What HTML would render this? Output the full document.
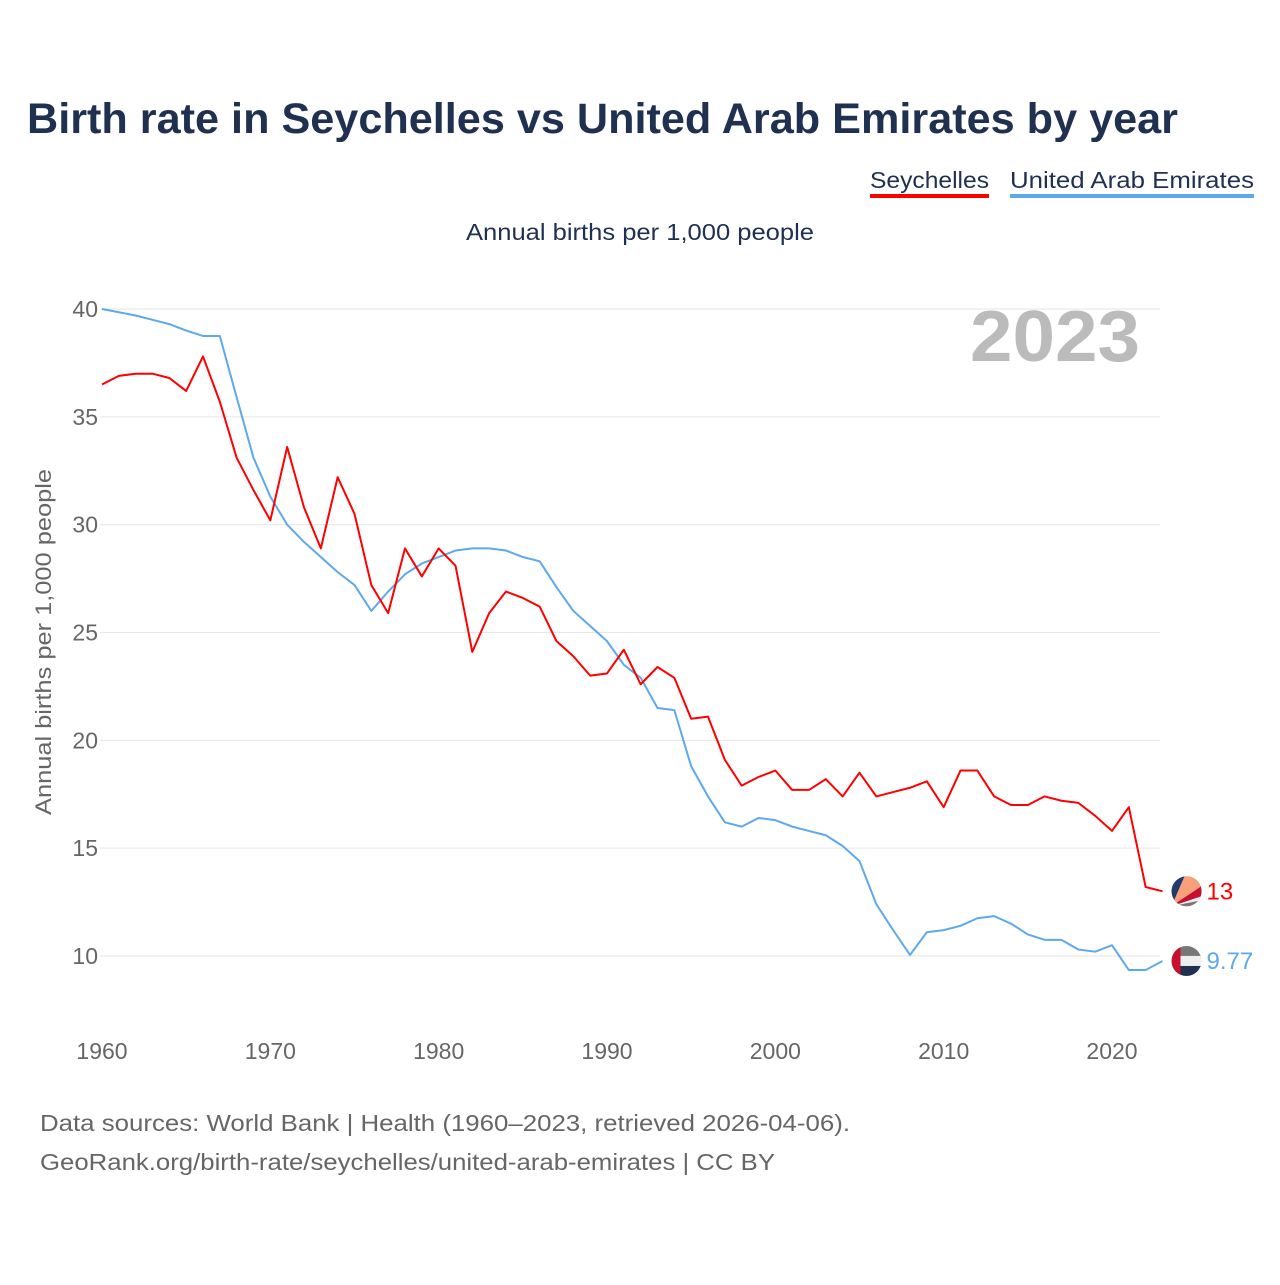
<!DOCTYPE html>
<html><head><meta charset="utf-8"><style>
body{margin:0;background:#fff;font-family:"Liberation Sans",sans-serif;}
svg text{font-family:"Liberation Sans",sans-serif;}
</style></head><body>
<svg width="1280" height="1280" viewBox="0 0 1280 1280">
<text x="27" y="133" font-size="43" font-weight="bold" fill="#1f3050" textLength="1151" lengthAdjust="spacingAndGlyphs">Birth rate in Seychelles vs United Arab Emirates by year</text>
<g>
<text x="870" y="188" font-size="23" fill="#1f3050" textLength="119" lengthAdjust="spacingAndGlyphs">Seychelles</text>
<rect x="870" y="194" width="119" height="4" fill="#ff0000"/>
<text x="1010" y="188" font-size="23" fill="#1f3050" textLength="244" lengthAdjust="spacingAndGlyphs">United Arab Emirates</text>
<rect x="1010" y="194" width="244" height="4" fill="#5ea8ee"/>
</g>
<text x="466" y="240" font-size="23" fill="#1f3050" textLength="348" lengthAdjust="spacingAndGlyphs">Annual births per 1,000 people</text>
<text x="970" y="361" font-size="72" font-weight="bold" fill="#bbbbbb" textLength="170" lengthAdjust="spacingAndGlyphs">2023</text>
<text transform="translate(51,815) rotate(-90)" font-size="22" fill="#666" textLength="346" lengthAdjust="spacingAndGlyphs">Annual births per 1,000 people</text>
<g id="grid"></g><g id="yticks"></g><g id="xticks"></g><g id="lines"></g><g id="ends"></g>
<text x="40" y="1131" font-size="23" fill="#666" textLength="810" lengthAdjust="spacingAndGlyphs">Data sources: World Bank | Health (1960–2023, retrieved 2026-04-06).</text>
<text x="40" y="1170" font-size="23" fill="#666" textLength="735" lengthAdjust="spacingAndGlyphs">GeoRank.org/birth-rate/seychelles/united-arab-emirates | CC BY</text>
</svg>
<script>
const startYear=1960;
const yTicks=[10,15,20,25,30,35,40];
const xTicks=[1960,1970,1980,1990,2000,2010,2020];
const seychelles=[36.5,36.9,37.0,37.0,36.8,36.2,37.8,35.7,33.1,31.6,30.2,33.6,30.8,28.9,32.2,30.5,27.2,25.9,28.9,27.6,28.9,28.1,24.1,25.9,26.9,26.6,26.2,24.6,23.9,23.0,23.1,24.2,22.6,23.4,22.9,21.0,21.1,19.1,17.9,18.3,18.6,17.7,17.7,18.2,17.4,18.5,17.4,17.6,17.8,18.1,16.9,18.6,18.6,17.4,17.0,17.0,17.4,17.2,17.1,16.5,15.8,16.9,13.2,13.0];
const uae=[40.0,39.85,39.7,39.5,39.3,39.0,38.75,38.75,35.9,33.1,31.3,30.0,29.2,28.5,27.8,27.2,26.0,26.9,27.7,28.2,28.5,28.8,28.9,28.9,28.8,28.5,28.3,27.1,26.0,25.3,24.6,23.5,22.9,21.5,21.4,18.8,17.4,16.2,16.0,16.4,16.3,16.0,15.8,15.6,15.1,14.4,12.4,11.2,10.05,11.1,11.2,11.4,11.75,11.85,11.5,11.0,10.75,10.75,10.3,10.2,10.5,9.35,9.35,9.77];
const X=y=>102+(y-1960)*(1010/60);
const Y=v=>956-(v-10)*(647/30);
const NS="http://www.w3.org/2000/svg";
function mk(t,a,p){const e=document.createElementNS(NS,t);for(const k in a)e.setAttribute(k,a[k]);document.getElementById(p).appendChild(e);return e;}
yTicks.forEach(v=>{
 const l=mk('line',{x1:100,x2:1160,y1:Y(v),y2:Y(v),stroke:'#e6e6e6','stroke-width':1},'grid');
 
 
 const t=mk('text',{x:98,y:Y(v)+8,'font-size':23,fill:'#666','text-anchor':'end'},'yticks');t.textContent=v;
 
 
});
xTicks.forEach(y=>{
 const t=mk('text',{x:X(y),y:1059,'font-size':23,fill:'#666','text-anchor':'middle'},'xticks');t.textContent=y;
 
 
});
function line(d,c,n){
 const p=mk('polyline',{points:d.map((v,i)=>X(startYear+i)+','+Y(v)).join(' '),fill:'none',stroke:c,'stroke-width':2,'stroke-linejoin':'round'},'lines');
 
 
}
line(uae,'#5ea8ee','line-uae');
line(seychelles,'#ff0000','line-seychelles');
function end(d,c,n,lbl,flag){
 const last=d[d.length-1],x=X(startYear+d.length-1),y=Y(last);
 const g=document.createElementNS(NS,'g');document.getElementById('ends').appendChild(g);
 
 
 g.innerHTML=flag(x+24,y);
 const t=mk('text',{x:x+44,y:y+8,'font-size':24,fill:c},'ends');t.textContent=lbl;
 
 
}
end(seychelles,'#ff0000','seychelles','13',(cx,cy)=>`<clipPath id="c1"><circle cx="${cx}" cy="${cy}" r="15"/></clipPath><g clip-path="url(#c1)"><rect x="${cx-15}" y="${cy-15}" width="30" height="30" fill="#1f3a6b"/><polygon points="${cx-15},${cy+15} ${cx-2},${cy-15} ${cx+15},${cy-15} ${cx+15},${cy-5}" fill="#f9a07a"/><polygon points="${cx-15},${cy+15} ${cx+15},${cy-5} ${cx+15},${cy+5}" fill="#c8102e"/><polygon points="${cx-15},${cy+15} ${cx+15},${cy+5} ${cx+15},${cy+15}" fill="#eee"/><polygon points="${cx-15},${cy+15} ${cx+15},${cy+9} ${cx+15},${cy+15}" fill="#777"/></g>`);
end(uae,'#5ea8ee','uae','9.77',(cx,cy)=>`<clipPath id="c2"><circle cx="${cx}" cy="${cy}" r="15"/></clipPath><g clip-path="url(#c2)"><rect x="${cx-15}" y="${cy-15}" width="30" height="10" fill="#777"/><rect x="${cx-15}" y="${cy-5}" width="30" height="10" fill="#eee"/><rect x="${cx-15}" y="${cy+5}" width="30" height="10" fill="#1f3050"/><rect x="${cx-15}" y="${cy-15}" width="9" height="30" fill="#c8102e"/></g>`);
</script>
</body></html>
